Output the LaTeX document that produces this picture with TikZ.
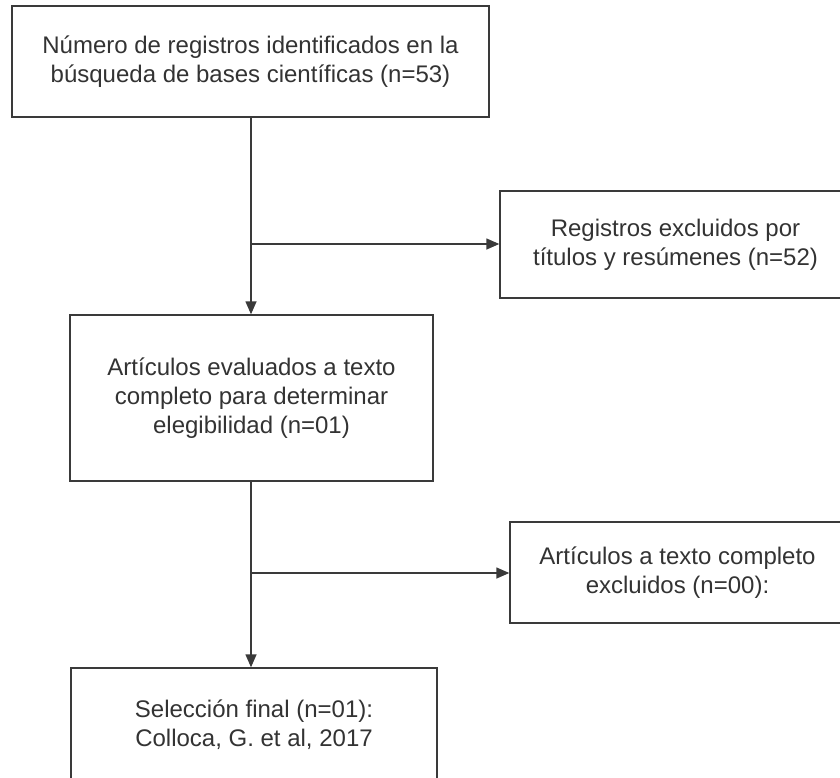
\documentclass[tikz,border=0pt]{standalone}
\usepackage{fontspec}
\setmainfont{Liberation Sans}
\usetikzlibrary{arrows.meta}
\definecolor{txt}{HTML}{333333}
\definecolor{ln}{HTML}{3A3A3A}
\tikzset{
  box/.style={draw=ln, line width=1.4pt, fill=white, inner sep=0pt, align=center,
    text=txt, font=\fontsize{24}{29}\selectfont},
  conn/.style={draw=ln, line width=1.4pt},
  arr/.style={conn, -{Triangle[length=13pt,width=11pt]}}
}
\begin{document}
\begin{tikzpicture}[x=1pt,y=-1pt]
\useasboundingbox (0,0) rectangle (840,777);
\clip (0,0) rectangle (840,777);
\fill[white] (0,0) rectangle (840,777);
\node[box, minimum width=477pt, minimum height=111pt] (b1) at (250.5,61.5)
  {Número de registros identificados en la\\búsqueda de bases científicas (n=53)};
\node[box, minimum width=351pt, minimum height=107pt] (b2) at (675.5,244.5)
  {Registros excluidos por\\títulos y resúmenes (n=52)};
\node[box, minimum width=363pt, minimum height=166pt] (b3) at (251.5,398)
  {Artículos evaluados a texto\\completo para determinar\\elegibilidad (n=01)};
\node[box, minimum width=335pt, minimum height=101pt] (b4) at (677.5,572.5)
  {Artículos a texto completo\\excluidos (n=00):};
\node[box, minimum width=366pt, minimum height=114pt] (b5) at (254,725)
  {Selección final (n=01):\\Colloca, G. et al, 2017};
\coordinate (j1) at (251,244);
\coordinate (j2) at (251,573);
\draw[arr] (b1.south -| j1) -- (b3.north -| j1);
\draw[arr] (j1) -- (j1 -| b2.west);
\draw[arr] (b3.south -| j2) -- (b5.north -| j2);
\draw[arr] (j2) -- (j2 -| b4.west);
\end{tikzpicture}
\end{document}
